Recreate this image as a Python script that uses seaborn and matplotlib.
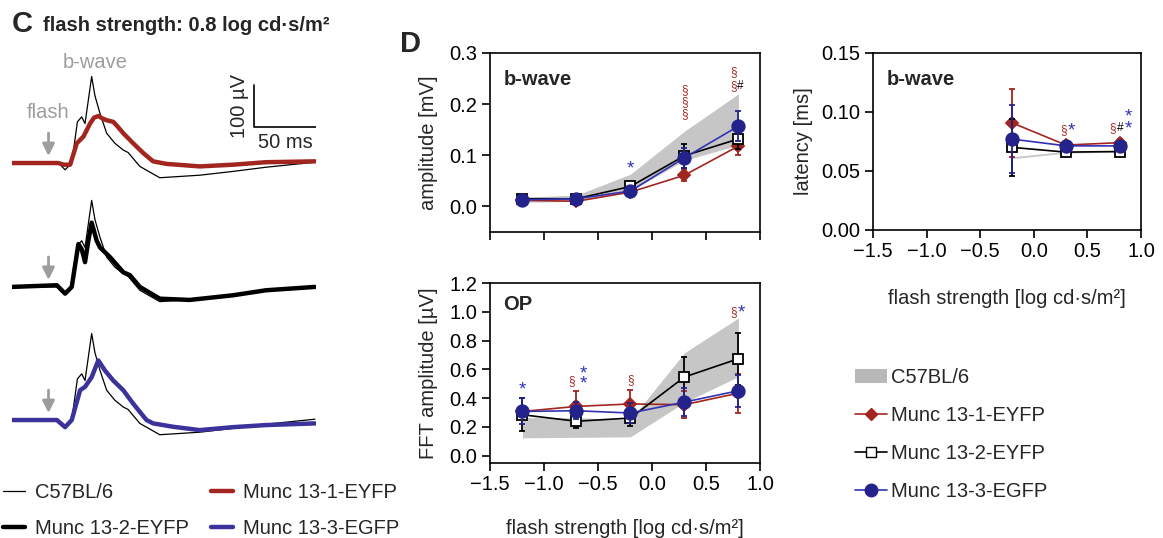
import numpy as np
import pandas as pd
import matplotlib.pyplot as plt
import seaborn as sns
from matplotlib.lines import Line2D
from matplotlib.patches import Patch

sns.set_theme(style="ticks")
plt.rcParams['font.family'] = ['Liberation Sans', 'DejaVu Sans']
plt.rcParams['font.size'] = 14.5
plt.rcParams['axes.labelsize'] = 14.5
plt.rcParams['axes.linewidth'] = 1.2
plt.rcParams['xtick.major.width'] = 1.2
plt.rcParams['ytick.major.width'] = 1.2
plt.rcParams['xtick.major.size'] = 5.5
plt.rcParams['ytick.major.size'] = 5.5
plt.rcParams['xtick.labelsize'] = 14.5
plt.rcParams['ytick.labelsize'] = 14.5

RED = '#a3251f'
BLUE = '#24238c'
BLUE_LINE = '#3232b4'
BAND = '#c6c6c6'
NOTE_GRAY = '#9d9d9d'

# ---- panel C: ERG traces (time in ms from flash, amplitude in uV) ----
t_c57 = [-29.7, 8.1, 13.5, 18.9, 23.5, 27.0, 29.7, 32.4, 35.1, 37.8, 41.9, 47.3,
         54.0, 60.8, 64.8, 74.3, 90.5, 122.9, 149.9, 176.9, 216.8]
v_c57 = [0, 0, -16, 0, 98, 110, 94, 150, 206, 160, 118, 71,
         47, 31, 25, -8, -35, -29, -20, -10, 2]

t_m1 = [-29.7, 8.1, 12.2, 17.6, 23.0, 28.4, 33.8, 37.0, 40.5, 44.0, 47.3, 52.7, 56.5, 60.8, 68.9,
        77.0, 85.1, 95.9, 122.9, 149.9, 176.9, 216.8]
v_m1 = [0, 0, -4, -4, 47, 63, 94, 108, 112, 106, 102, 98, 86, 71, 47,
        24, 4, -2, -8, -4, 2, 4]

t_m2 = [-29.7, 6.8, 13.5, 18.9, 24.3, 27.0, 29.7, 32.4, 35.1, 39.2, 41.9, 50.0,
        60.8, 66.2, 74.3, 90.5, 114.8, 149.9, 176.9, 216.8]
v_m2 = [0, 4, -16, 0, 102, 90, 59, 110, 153, 110, 94, 71,
        35, 28, 0, -28, -31, -20, -8, 0]

t_m3 = [-29.7, 6.8, 13.5, 18.9, 25.7, 29.7, 35.1, 40.5, 45.9, 52.7, 60.8, 68.9,
        79.7, 85.1, 101.3, 122.9, 149.9, 176.9, 216.8]
v_m3 = [0, 0, -17, 0, 71, 79, 102, 142, 118, 94, 71, 39,
        0, -8, -16, -24, -17, -12, -8]

trace_offsets = [731, 436, 119]

# ---- panel D: means, SEM and control band ----
flash = [-1.2, -0.7, -0.2, 0.3, 0.8]
amp_m1 = [0.012, 0.010, 0.028, 0.061, 0.118]
amp_m1_err = [0.004, 0.003, 0.006, 0.012, 0.018]
amp_m2 = [0.015, 0.015, 0.039, 0.099, 0.132]
amp_m2_err = [0.003, 0.003, 0.005, 0.024, 0.020]
amp_m3 = [0.013, 0.015, 0.030, 0.095, 0.157]
amp_m3_err = [0.003, 0.003, 0.006, 0.020, 0.030]
amp_wt_lo = [0.008, 0.010, 0.030, 0.090, 0.120]
amp_wt_hi = [0.018, 0.022, 0.063, 0.147, 0.220]

lat_flash = [-0.2, 0.3, 0.8]
lat_m1 = [0.0907, 0.0720, 0.0740]
lat_m1_err = [0.029, 0.003, 0.003]
lat_m2 = [0.0700, 0.0660, 0.0665]
lat_m2_err = [0.024, 0.002, 0.002]
lat_m3 = [0.0770, 0.0713, 0.0713]
lat_m3_err = [0.029, 0.002, 0.002]
lat_wt_lo = [0.0605, 0.0652, 0.0660]
lat_wt_hi = [0.0620, 0.0667, 0.0675]

op_m1 = [0.308, 0.343, 0.360, 0.355, 0.435]
op_m1_err = [0.030, 0.105, 0.100, 0.095, 0.135]
op_m2 = [0.285, 0.240, 0.262, 0.547, 0.674]
op_m2_err = [0.115, 0.050, 0.057, 0.140, 0.180]
op_m3 = [0.308, 0.313, 0.297, 0.373, 0.452]
op_m3_err = [0.090, 0.060, 0.070, 0.100, 0.110]
op_wt_lo = [0.125, 0.128, 0.132, 0.370, 0.550]
op_wt_hi = [0.265, 0.265, 0.250, 0.715, 0.957]

# significance marks: (x, y, symbol, colour)
amp_marks = [(-0.2, 0.074, '*', BLUE_LINE),
             (0.3, 0.228, '§', RED), (0.3, 0.204, '§', RED), (0.3, 0.180, '§', RED),
             (0.753, 0.262, '§', RED), (0.753, 0.236, '§', RED), (0.82, 0.236, '#', 'black')]
lat_marks = [(0.276, 0.085, '§', RED), (0.353, 0.084, '*', BLUE_LINE),
             (0.737, 0.0865, '§', RED), (0.805, 0.0865, '#', 'black'),
             (0.883, 0.0855, '*', BLUE_LINE), (0.883, 0.0955, '*', BLUE_LINE)]
op_marks = [(-1.198, 0.455, '*', BLUE_LINE),
            (-0.745, 0.517, '§', RED), (-0.64, 0.570, '*', BLUE_LINE), (-0.64, 0.497, '*', BLUE_LINE),
            (-0.198, 0.524, '§', RED),
            (0.753, 0.997, '§', RED), (0.83, 0.99, '*', BLUE_LINE)]

W, H = 1163, 538
fig = plt.figure(figsize=(W / 100, H / 100), dpi=100)


def frac(left, top, right, bottom):
    return [left / W, 1 - bottom / H, (right - left) / W, (bottom - top) / H]


# ---------------- panel C ----------------
axc = fig.add_axes(frac(12, 40, 316, 470))
axc.set_xlim(-29.7, 217.6)
axc.set_ylim(0, 1024)
axc.axis('off')

c57_v = np.array(v_c57)
for off, (tt, vv, col, z) in zip(trace_offsets, [(t_m1, v_m1, RED, 3), (t_m2, v_m2, 'black', 1),
                                                   (t_m3, v_m3, '#3b329c', 3)]):
    sns.lineplot(x=t_c57, y=c57_v + off, color='black', linewidth=0.9, sort=False, ax=axc, zorder=2)
    sns.lineplot(x=tt, y=np.array(vv) + off, color=col, linewidth=3.2, sort=False, ax=axc, zorder=z)
    axc.annotate('', xy=(0, off + 10), xytext=(0, off + 78),
                 arrowprops=dict(arrowstyle='-|>', color=NOTE_GRAY, lw=2, mutation_scale=18))

axc.text(0, trace_offsets[0] + 120, 'flash', color=NOTE_GRAY, ha='center', va='center')
axc.text(37.6, trace_offsets[0] + 240, 'b-wave', color=NOTE_GRAY, ha='center', va='center')

# scale bar
axc.plot([167.4, 167.4, 217.4], [917, 817, 817], color='black', lw=1.2)
axc.text(155, 867, '100 µV', rotation=90, ha='center', va='center')
axc.text(192.5, 781, '50 ms', ha='center', va='center')

fig.text(12 / W, 1 - 32 / H, 'C', fontsize=21, fontweight='bold', va='baseline')
fig.text(43 / W, 1 - 31 / H, 'flash strength: 0.8 log cd·s/m²', fontsize=14.5,
         fontweight='bold', va='baseline')

c_handles = [Line2D([], [], color='black', lw=0.9), Line2D([], [], color='black', lw=3.2),
             Line2D([], [], color=RED, lw=3.2), Line2D([], [], color='#3b329c', lw=3.2)]
c_labels = ['C57BL/6', 'Munc 13-2-EYFP', 'Munc 13-1-EYFP', 'Munc 13-3-EGFP']
fig.legend(c_handles, c_labels, loc='upper left', bbox_to_anchor=(3 / W, 1 - 483 / H), ncol=2,
           frameon=False, borderpad=0, borderaxespad=0, handlelength=1.1, handletextpad=0.5,
           columnspacing=1.1, labelspacing=0.85, fontsize=14.5)

# ---------------- panel D ----------------
ax_amp = fig.add_axes(frac(490, 53, 760, 232))
ax_lat = fig.add_axes(frac(873, 53, 1141, 230))
ax_op = fig.add_axes(frac(490, 283, 760, 463))


def draw_series(ax, x, y, err, color, lcolor, marker, mfc, ms, z):
    ax.errorbar(x, y, yerr=err, fmt='none', ecolor=color, elinewidth=1.3,
                capsize=2, capthick=1.3, zorder=z)
    sns.lineplot(x=x, y=y, color=lcolor, marker=marker, markersize=ms, markerfacecolor=mfc,
                 markeredgecolor=color, markeredgewidth=1.3, linewidth=1.2, ax=ax, zorder=z + 0.1)


def draw_panel(ax, x, lo, hi, m1, e1, m2, e2, m3, e3, marks):
    ax.fill_between(x, lo, hi, color=BAND, linewidth=0, zorder=0.5)
    draw_series(ax, x, m1, e1, RED, RED, 'D', RED, 6.5, 2)
    draw_series(ax, x, m2, e2, 'black', 'black', 's', 'white', 7, 3)
    draw_series(ax, x, m3, e3, BLUE, BLUE_LINE, 'o', BLUE, 9, 4)
    for mx, my, s, col in marks:
        ax.text(mx, my, s, color=col, ha='center', va='center',
                fontsize=13.5 if s == '*' else 8.5, zorder=6)
    ax.set_xlim(-1.5, 1.0)
    ax.set_xticks([-1.5, -1.0, -0.5, 0.0, 0.5, 1.0])
    ax.tick_params(direction='out', top=False, right=False, color='black', labelcolor='black')
    for sp in ax.spines.values():
        sp.set_visible(True)
        sp.set_color('black')
    ax.grid(False)


draw_panel(ax_amp, flash, amp_wt_lo, amp_wt_hi, amp_m1, amp_m1_err, amp_m2, amp_m2_err,
           amp_m3, amp_m3_err, amp_marks)
ax_amp.set_ylim(-0.05, 0.3)
ax_amp.set_yticks([0.0, 0.1, 0.2, 0.3])
ax_amp.yaxis.set_major_formatter(plt.FormatStrFormatter('%.1f'))
ax_amp.set_xticklabels([])
ax_amp.set_ylabel('amplitude [mV]', labelpad=8)
ax_amp.text(0.05, 0.85, 'b-wave', transform=ax_amp.transAxes, fontweight='bold', va='center')

draw_panel(ax_lat, lat_flash, lat_wt_lo, lat_wt_hi, lat_m1, lat_m1_err, lat_m2, lat_m2_err,
           lat_m3, lat_m3_err, lat_marks)
ax_lat.set_ylim(0, 0.15)
ax_lat.set_yticks([0.0, 0.05, 0.10, 0.15])
ax_lat.yaxis.set_major_formatter(plt.FormatStrFormatter('%.2f'))
ax_lat.set_ylabel('latency [ms]', labelpad=6)
ax_lat.set_xlabel('flash strength [log cd·s/m²]', labelpad=20)
ax_lat.text(0.05, 0.85, 'b-wave', transform=ax_lat.transAxes, fontweight='bold', va='center')

draw_panel(ax_op, flash, op_wt_lo, op_wt_hi, op_m1, op_m1_err, op_m2, op_m2_err,
           op_m3, op_m3_err, op_marks)
ax_op.set_ylim(-0.05, 1.2)
ax_op.set_yticks([0.0, 0.2, 0.4, 0.6, 0.8, 1.0, 1.2])
ax_op.yaxis.set_major_formatter(plt.FormatStrFormatter('%.1f'))
ax_op.set_ylabel('FFT amplitude [µV]', labelpad=8)
ax_op.set_xlabel('flash strength [log cd·s/m²]', labelpad=18)
ax_op.text(0.05, 0.88, 'OP', transform=ax_op.transAxes, fontweight='bold', va='center')

fig.text(400 / W, 1 - 52 / H, 'D', fontsize=21, fontweight='bold', va='baseline')

d_handles = [Patch(facecolor='#b8b8b8', edgecolor='none'),
             Line2D([], [], color=RED, lw=1.2, marker='D', ms=6.5, mfc=RED, mec=RED),
             Line2D([], [], color='black', lw=1.2, marker='s', ms=7, mfc='white', mec='black'),
             Line2D([], [], color=BLUE_LINE, lw=1.2, marker='o', ms=9, mfc=BLUE, mec=BLUE)]
d_labels = ['C57BL/6', 'Munc 13-1-EYFP', 'Munc 13-2-EYFP', 'Munc 13-3-EGFP']
fig.legend(d_handles, d_labels, loc='upper left', bbox_to_anchor=(855 / W, 1 - 368 / H),
           frameon=False, borderpad=0, borderaxespad=0, handlelength=1.6, handletextpad=0.2,
           labelspacing=0.95, fontsize=14.5)

fig.savefig('out.png', dpi=100)
